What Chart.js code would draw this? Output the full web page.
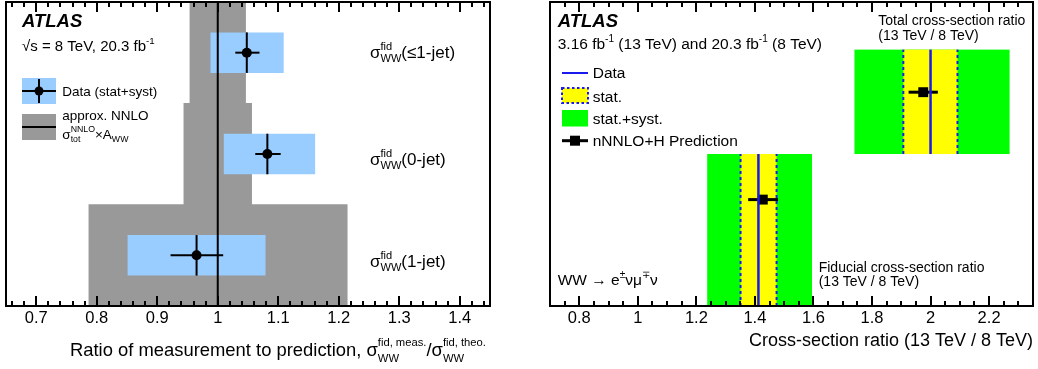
<!DOCTYPE html>
<html>
<head>
<meta charset="utf-8">
<script src="https://cdn.jsdelivr.net/npm/chart.js@4.4.1/dist/chart.umd.min.js"></script>
<style>
  html, body { margin: 0; padding: 0; background: #fff; }
  #c1 { position: absolute; left: 0; top: 0; }
  #c2 { position: absolute; left: 520px; top: 0; }
</style>
</head>
<body>
<canvas id="c1" width="520" height="369"></canvas>
<canvas id="c2" width="518" height="369"></canvas>
<script>
const FONT = '"Liberation Sans", Arial, Helvetica, sans-serif';

// left panel: measured / predicted fiducial cross sections
const jetCategories = ['≤1-jet', '0-jet', '1-jet'];
const theoryLow = [0.954, 0.944, 0.787];
const theoryHigh = [1.046, 1.056, 1.214];
const measRatio = [1.048, 1.082, 0.965];
const measTotalLow = [0.988, 1.010, 0.851];
const measTotalHigh = [1.109, 1.161, 1.079];
const measStatLow = [1.029, 1.062, 0.922];
const measStatHigh = [1.069, 1.104, 1.009];
const leftTicks = [0.7, 0.8, 0.9, 1, 1.1, 1.2, 1.3, 1.4];

// right panel: 13 TeV / 8 TeV cross-section ratios
const ratioRows = ['Total', 'Fiducial'];
const rowBottom = [1.5, 0];
const rowTop = [2.53, 1.5];
const dataRatio = [2.0, 1.412];
const statLow = [1.907, 1.351];
const statHigh = [2.092, 1.474];
const systLow = [1.74, 1.237];
const systHigh = [2.27, 1.595];
const predRatio = [1.975, 1.427];
const predLow = [1.925, 1.377];
const predHigh = [2.025, 1.479];
const predRow = [2.11, 1.05];
const rightTicks = [0.8, 1, 1.2, 1.4, 1.6, 1.8, 2, 2.2];

const GRAY = '#999999';
const LIGHT_BLUE = '#99ccff';
const GREEN = '#00ff00';
const YELLOW = '#ffff00';
const DATA_BLUE = '#1a1aee';

// text with ROOT-like stacked super/subscripts
function drawRich(ctx, parts, x, y, size, opts = {}) {
  const small = size * (opts.small || 0.65);
  const supDy = size * (opts.supDy || -0.47);
  const subDy = size * (opts.subDy || 0.26);
  const items = [];
  let w = 0;
  parts.forEach((p) => {
    if (typeof p === 'string') {
      ctx.font = `${size}px ${FONT}`;
      items.push({ t: p, font: ctx.font, dx: w, dy: 0 });
      w += ctx.measureText(p).width;
    } else {
      ctx.font = `${small}px ${FONT}`;
      let adv = 0;
      if (p.sup) {
        items.push({ t: p.sup, font: ctx.font, dx: w, dy: supDy });
        adv = Math.max(adv, ctx.measureText(p.sup).width);
      }
      if (p.sub) {
        items.push({ t: p.sub, font: ctx.font, dx: w, dy: subDy });
        adv = Math.max(adv, ctx.measureText(p.sub).width);
      }
      w += adv;
    }
  });
  const x0 = opts.align === 'right' ? x - w : x;
  ctx.save();
  ctx.textAlign = 'left';
  ctx.textBaseline = 'alphabetic';
  ctx.fillStyle = '#000';
  items.forEach((it) => {
    ctx.font = it.font;
    ctx.fillText(it.t, x0 + it.dx, y + it.dy);
  });
  ctx.restore();
}

function drawFrame(chart, majors, minorStep) {
  const { ctx, chartArea: a, scales: { x } } = chart;
  ctx.save();
  ctx.strokeStyle = '#000';
  ctx.lineWidth = 2;
  ctx.strokeRect(a.left, a.top, a.width, a.height);
  let v = Math.ceil(x.min / minorStep - 1e-6) * minorStep;
  for (; v <= x.max + 1e-6; v += minorStep) {
    const major = majors.some((m) => Math.abs(m - v) < 1e-6);
    const len = major ? 10 : 5;
    const px = Math.round(x.getPixelForValue(v));
    ctx.beginPath();
    ctx.moveTo(px, a.bottom);
    ctx.lineTo(px, a.bottom - len);
    ctx.moveTo(px, a.top);
    ctx.lineTo(px, a.top + len);
    ctx.stroke();
  }
  ctx.restore();
}

function line(ctx, x1, y1, x2, y2) {
  ctx.beginPath();
  ctx.moveTo(x1, y1);
  ctx.lineTo(x2, y2);
  ctx.stroke();
}

const tickLabel = (v) => String(Math.round(v * 100) / 100);

const jetPanelDecor = {
  id: 'jetPanelDecor',
  afterDatasetsDraw(chart) {
    const { ctx, chartArea: a, scales: { x, y } } = chart;
    ctx.save();
    ctx.strokeStyle = '#000';
    ctx.lineWidth = 2;
    const x1 = x.getPixelForValue(1);
    line(ctx, x1, a.top, x1, a.bottom);
    jetCategories.forEach((cat, i) => {
      const yc = y.getPixelForValue(i);
      const xc = x.getPixelForValue(measRatio[i]);
      line(ctx, x.getPixelForValue(measStatLow[i]), yc, x.getPixelForValue(measStatHigh[i]), yc);
      line(ctx, xc, y.getPixelForValue(i - 0.2), xc, y.getPixelForValue(i + 0.2));
    });
    ctx.restore();
  },
  afterDraw(chart) {
    const { ctx } = chart;
    drawFrame(chart, leftTicks, 0.02);

    ctx.save();
    ctx.fillStyle = '#000';
    ctx.font = `italic bold 18.5px ${FONT}`;
    ctx.fillText('ATLAS', 22, 26.7);
    ctx.restore();
    drawRich(ctx, ['√s = 8 TeV, 20.3 fb', { sup: '-1' }], 22, 51, 15);

    // legend
    ctx.save();
    ctx.fillStyle = LIGHT_BLUE;
    ctx.fillRect(22, 78, 34, 26);
    ctx.strokeStyle = '#000';
    ctx.lineWidth = 2;
    line(ctx, 22, 91, 56, 91);
    line(ctx, 39, 79, 39, 103);
    ctx.fillStyle = '#000';
    ctx.beginPath();
    ctx.arc(39, 91, 4.5, 0, Math.PI * 2);
    ctx.fill();
    ctx.fillStyle = GRAY;
    ctx.fillRect(22, 114, 34, 26);
    line(ctx, 22, 127, 56, 127);
    ctx.restore();
    drawRich(ctx, ['Data (stat+syst)'], 62.3, 95.5, 13.5);
    drawRich(ctx, ['approx. NNLO'], 62.3, 120, 13.5);
    drawRich(ctx, ['σ', { sup: 'NNLO', sub: 'tot' }, '×A', { sub: 'WW' }], 62.3, 138.5, 13.5);

    // row labels
    const rowBase = [58, 164.5, 267];
    jetCategories.forEach((cat, i) => {
      drawRich(ctx, ['σ', { sup: 'fid', sub: 'WW' }, `(${cat})`], 370, rowBase[i], 17);
    });

    // axis title
    drawRich(ctx, [
      'Ratio of measurement to prediction, σ', { sup: 'fid, meas.', sub: 'WW' },
      '/σ', { sup: 'fid, theo.', sub: 'WW' },
    ], 70, 356, 18.4, { small: 0.61, supDy: -0.55, subDy: 0.32 });
  },
};

new Chart(document.getElementById('c1'), {
  type: 'bar',
  data: {
    labels: jetCategories,
    datasets: [
      {
        indexAxis: 'y',
        data: theoryLow.map((lo, i) => [lo, theoryHigh[i]]),
        backgroundColor: GRAY,
        barPercentage: 1,
        categoryPercentage: 1,
        grouped: false,
        borderWidth: 0,
        order: 3,
      },
      {
        indexAxis: 'y',
        data: measTotalLow.map((lo, i) => [lo, measTotalHigh[i]]),
        backgroundColor: LIGHT_BLUE,
        barPercentage: 0.4,
        categoryPercentage: 1,
        grouped: false,
        borderWidth: 0,
        order: 2,
      },
      {
        type: 'scatter',
        data: measRatio.map((v, i) => ({ x: v, y: jetCategories[i] })),
        pointRadius: 5,
        pointBackgroundColor: '#000',
        pointBorderWidth: 0,
        order: 1,
      },
    ],
  },
  options: {
    responsive: false,
    animation: false,
    indexAxis: 'y',
    layout: { autoPadding: false, padding: { left: 6, right: 30, top: 2, bottom: 0 } },
    plugins: { legend: { display: false }, tooltip: { enabled: false } },
    scales: {
      x: {
        type: 'linear',
        min: 0.65,
        max: 1.45,
        afterBuildTicks: (scale) => { scale.ticks = leftTicks.map((v) => ({ value: v })); },
        afterFit: (scale) => { scale.height = 63; },
        grid: { display: false, drawTicks: false },
        border: { display: false },
        ticks: {
          autoSkip: false,
          maxRotation: 0,
          padding: 3,
          color: '#000',
          font: { family: FONT, size: 16.5 },
          callback: tickLabel,
        },
      },
      y: { type: 'category', display: false },
    },
  },
  plugins: [jetPanelDecor],
});

const ratioPanelDecor = {
  id: 'ratioPanelDecor',
  beforeDatasetsDraw(chart) {
    const { ctx, scales: { x, y } } = chart;
    ctx.save();
    ratioRows.forEach((row, i) => {
      const top = y.getPixelForValue(rowTop[i]);
      const bot = y.getPixelForValue(rowBottom[i]);
      ctx.fillStyle = GREEN;
      ctx.fillRect(x.getPixelForValue(systLow[i]), top,
        x.getPixelForValue(systHigh[i]) - x.getPixelForValue(systLow[i]), bot - top);
      ctx.fillStyle = YELLOW;
      ctx.fillRect(x.getPixelForValue(statLow[i]), top,
        x.getPixelForValue(statHigh[i]) - x.getPixelForValue(statLow[i]), bot - top);
    });
    ctx.restore();
  },
  afterDraw(chart) {
    const { ctx } = chart;
    drawFrame(chart, rightTicks, 0.05);

    ctx.save();
    ctx.fillStyle = '#000';
    ctx.font = `italic bold 18.5px ${FONT}`;
    ctx.fillText('ATLAS', 37.7, 26.7);
    ctx.restore();
    drawRich(ctx, ['3.16 fb', { sup: '-1' }, ' (13 TeV) and 20.3 fb', { sup: '-1' }, ' (8 TeV)'], 37.7, 49.3, 15.5);

    // legend
    ctx.save();
    ctx.strokeStyle = DATA_BLUE;
    ctx.lineWidth = 2;
    line(ctx, 42, 73, 68, 73);
    ctx.fillStyle = YELLOW;
    ctx.fillRect(42, 88, 26, 15);
    ctx.setLineDash([2.5, 2.5]);
    ctx.strokeRect(42, 88, 26, 15);
    ctx.setLineDash([]);
    ctx.fillStyle = GREEN;
    ctx.fillRect(42, 110, 26, 16.5);
    ctx.strokeStyle = '#000';
    ctx.lineWidth = 3;
    line(ctx, 42, 140.7, 68, 140.7);
    ctx.fillStyle = '#000';
    ctx.fillRect(50, 135.7, 10, 10);
    ctx.restore();
    drawRich(ctx, ['Data'], 72.7, 78.3, 15.5);
    drawRich(ctx, ['stat.'], 72.7, 101.7, 15.5);
    drawRich(ctx, ['stat.+syst.'], 72.7, 124, 15.5);
    drawRich(ctx, ['nNNLO+H Prediction'], 72.7, 145.7, 15.5);

    drawRich(ctx, ['Total cross-section ratio'], 358.3, 25, 14);
    drawRich(ctx, ['(13 TeV / 8 TeV)'], 358.3, 39.5, 14);
    drawRich(ctx, ['Fiducial cross-section ratio'], 298.7, 271.5, 14);
    drawRich(ctx, ['(13 TeV / 8 TeV)'], 298.7, 286, 14);
    drawRich(ctx, ['WW → e', { sup: '±' }, 'νμ', { sup: '∓' }, 'ν'], 37.7, 285, 15.5);

    drawRich(ctx, ['Cross-section ratio (13 TeV / 8 TeV)'], chart.chartArea.right, 346, 18, { align: 'right' });
  },
};

const rowLine = (xs, i) => [{ x: xs[i], y: rowBottom[i] }, { x: xs[i], y: rowTop[i] }];

new Chart(document.getElementById('c2'), {
  type: 'scatter',
  data: {
    datasets: [
      ...ratioRows.map((row, i) => ({
        showLine: true,
        data: rowLine(dataRatio, i),
        borderColor: DATA_BLUE,
        borderWidth: 2.5,
        pointRadius: 0,
      })),
      ...ratioRows.flatMap((row, i) => [statLow, statHigh].map((edge) => ({
        showLine: true,
        data: rowLine(edge, i),
        borderColor: DATA_BLUE,
        borderWidth: 2,
        borderDash: [3, 3],
        pointRadius: 0,
      }))),
      ...ratioRows.map((row, i) => ({
        showLine: true,
        data: [{ x: predLow[i], y: predRow[i] }, { x: predHigh[i], y: predRow[i] }],
        borderColor: '#000',
        borderWidth: 3,
        pointRadius: 0,
      })),
      {
        data: predRatio.map((v, i) => ({ x: v, y: predRow[i] })),
        pointStyle: 'rect',
        pointRadius: 7,
        pointBackgroundColor: '#000',
        pointBorderWidth: 0,
      },
    ],
  },
  options: {
    responsive: false,
    animation: false,
    layout: { autoPadding: false, padding: { left: 30, right: 5, top: 2, bottom: 0 } },
    plugins: { legend: { display: false }, tooltip: { enabled: false } },
    scales: {
      x: {
        type: 'linear',
        min: 0.7,
        max: 2.35,
        afterBuildTicks: (scale) => { scale.ticks = rightTicks.map((v) => ({ value: v })); },
        afterFit: (scale) => { scale.height = 63; },
        grid: { display: false, drawTicks: false },
        border: { display: false },
        ticks: {
          autoSkip: false,
          maxRotation: 0,
          padding: 3,
          color: '#000',
          font: { family: FONT, size: 16.5 },
          callback: tickLabel,
        },
      },
      y: { type: 'linear', min: 0, max: 3, display: false },
    },
  },
  plugins: [ratioPanelDecor],
});
</script>
</body>
</html>
